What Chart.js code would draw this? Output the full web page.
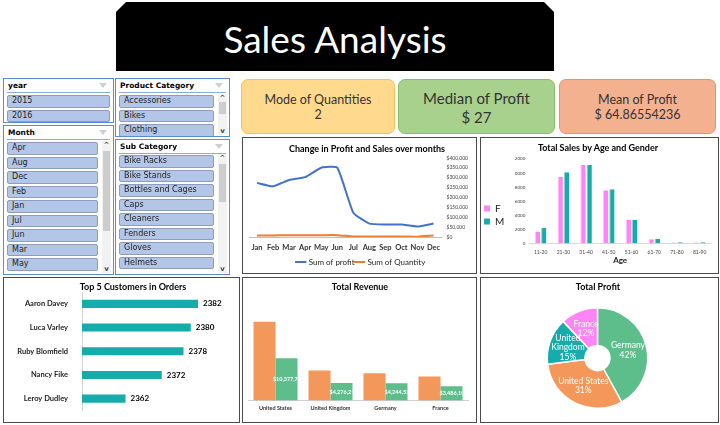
<!DOCTYPE html>
<html>
<head>
<meta charset="utf-8">
<script src="https://cdn.jsdelivr.net/npm/chart.js@4.4.1/dist/chart.umd.min.js"></script>
<style>
  body { margin: 0; width: 720px; height: 425px; overflow: hidden; background: #fff; font-family: Lato, sans-serif; position: relative; }
  .abs { position: absolute; }
  #banner { left: 116px; top: 2px; width: 438px; height: 69px; background: #000; color: #fff;
    clip-path: polygon(10px 0, 428px 0, 438px 10px, 438px 69px, 0 69px, 0 10px);
    font: 37px Lato, sans-serif; text-align: center; line-height: 74px; }
  .slicer { position: absolute; border: 1.5px solid #5B8BD0; background: #fff; box-sizing: border-box; overflow: hidden; }
  .slicer .hd { position: absolute; left: 4px; font: bold 7.5px "DejaVu Sans", sans-serif; color: #000; }
  .slicer .rule { position: absolute; left: 3px; right: 3px; height: 1px; background: #8FAADC; }
  .slicer .fn { position: absolute; width: 0; height: 0; border-left: 4px solid transparent; border-right: 4px solid transparent; border-top: 5px solid #D0D0D0; }
  .item { position: absolute; background: #B4C6E7; border: 1px solid #8C9DBB; border-radius: 2px; box-sizing: border-box;
    font: 8px "DejaVu Sans", sans-serif; color: #222; padding-left: 4px; line-height: 10.5px; }
  .sb { position: absolute; width: 9px; background: #F2F2F2; }
  .sb .th { position: absolute; left: 1px; width: 7px; background: #CDCDCD; }
  .sb .ar { position: absolute; left: 0; width: 9px; text-align: center; font: bold 7px "DejaVu Sans", sans-serif; color: #444; }
  .kpi { position: absolute; border-radius: 7px; box-sizing: border-box; text-align: center; color: #333; font-family: Lato, sans-serif; }
  .panel { position: absolute; border: 1.5px solid #4A4A4A; box-sizing: border-box; background: #fff; }
  .panel canvas { position: absolute; left: 0; top: 0; }
  .ptitle { position: absolute; font: bold 9px Lato, sans-serif; color: #000; white-space: nowrap; transform: translateX(-50%); }
</style>
</head>
<body>
<div id="banner" class="abs">Sales Analysis</div>

<div class="kpi" style="left:241px;top:79px;width:154px;height:55px;background:#FFD98E;border:1px solid #F6C24E;">
  <div style="font-size:12.5px;margin-top:12px;">Mode of Quantities</div>
  <div style="font-size:12.5px;margin-top:0px;">2</div>
</div>
<div class="kpi" style="left:398px;top:79px;width:157px;height:55px;background:#A9D18E;border:1px solid #86C06D;">
  <div style="font-size:15px;margin-top:9px;">Median of Profit</div>
  <div style="font-size:15px;margin-top:1px;">$ 27</div>
</div>
<div class="kpi" style="left:559px;top:79px;width:157px;height:55px;background:#F4B190;border:1px solid #EE8E6C;">
  <div style="font-size:12.5px;margin-top:12px;">Mean of Profit</div>
  <div style="font-size:12.5px;margin-top:0px;">$ 64.86554236</div>
</div>

<div id="p-line" class="panel" style="left:242px;top:137px;width:235px;height:137px;"><canvas id="cLine" width="232" height="134"></canvas></div>
<div id="p-age" class="panel" style="left:480px;top:137px;width:239px;height:137px;"><canvas id="cAge" width="236" height="134"></canvas></div>
<div id="p-top" class="panel" style="left:3px;top:277px;width:237px;height:146px;"><canvas id="cTop" width="234" height="143"></canvas></div>
<div id="p-rev" class="panel" style="left:242px;top:277px;width:235px;height:146px;"><canvas id="cRev" width="232" height="143"></canvas></div>
<div id="p-pro" class="panel" style="left:480px;top:277px;width:239px;height:146px;"><canvas id="cPro" width="236" height="143"></canvas></div>

<div class="ptitle" style="left:367px;top:143px;">Change in Profit and Sales over months</div>
<div class="ptitle" style="left:598px;top:142px;">Total Sales by Age and Gender</div>
<div class="ptitle" style="left:133px;top:281px;">Top 5 Customers in Orders</div>
<div class="ptitle" style="left:360px;top:281px;">Total Revenue</div>
<div class="ptitle" style="left:598px;top:281px;">Total Profit</div>

<script>
// slicer lists
var years = ['2015', '2016'];
var monthItems = ['Apr', 'Aug', 'Dec', 'Feb', 'Jan', 'Jul', 'Jun', 'Mar', 'May'];
var productCats = ['Accessories', 'Bikes', 'Clothing'];
var subCats = ['Bike Racks', 'Bike Stands', 'Bottles and Cages', 'Caps', 'Cleaners', 'Fenders', 'Gloves', 'Helmets'];

// line chart
var months = ['Jan', 'Feb', 'Mar', 'Apr', 'May', 'Jun', 'Jul', 'Aug', 'Sep', 'Oct', 'Nov', 'Dec'];
var profitByMonth = [274000, 257000, 289000, 303000, 351000, 351000, 123000, 68000, 63000, 63000, 53000, 68000];
var quantityByMonth = [8200, 8000, 8500, 8600, 9200, 9300, 2300, 2000, 2000, 2100, 1900, 7200];

// age / gender
var ageGroups = ['11-20', '21-30', '31-40', '41-50', '51-60', '61-70', '71-80', '81-90'];
var salesF = [1700, 9450, 11150, 7550, 3350, 620, 140, 140];
var salesM = [2200, 10130, 11150, 7700, 3380, 640, 190, 190];

// top customers
var customers = ['Aaron Davey', 'Luca Varley', 'Ruby Blomfield', 'Nancy Fike', 'Leroy Dudley'];
var customerOrders = [2382, 2380, 2378, 2372, 2362];

// revenue
var countries = ['United States', 'United Kingdom', 'Germany', 'France'];
var revenueA = [19400000, 7400000, 6700000, 5900000];
var revenueB = [10377746, 4276213, 4244534, 3486106];

// profit share
var profitCountries = ['Germany', 'United States', 'United Kingdom', 'France'];
var profitShare = [42, 31, 15, 12];

var cOrange = '#F4975B', cGreen = '#5DBD8B', cTeal = '#17ABAB', cPink = '#FF85F5';

function slicer(x, y, w, h, title, items, itemW, firstY, scroll) {
  var s = document.createElement('div');
  s.className = 'slicer';
  s.style.cssText = 'left:' + x + 'px;top:' + y + 'px;width:' + w + 'px;height:' + h + 'px;';
  var html = '<div class="hd" style="top:2px">' + title + '</div>' +
    '<div class="rule" style="top:13px"></div>' +
    '<div class="fn" style="right:6px;top:4px"></div>';
  items.forEach(function (t, i) {
    html += '<div class="item" style="left:3px;top:' + (firstY + i * 14.5) + 'px;width:' + itemW + 'px;height:12.5px;">' + t + '</div>';
  });
  if (scroll) {
    html += '<div class="sb" style="right:2px;top:' + (firstY - 1) + 'px;height:' + (h - firstY - 2) + 'px;">' +
      '<div class="ar" style="top:0">^</div>' +
      '<div class="th" style="top:' + scroll[0] + 'px;height:' + scroll[1] + 'px"></div>' +
      '<div class="ar" style="bottom:0">v</div></div>';
  }
  s.innerHTML = html;
  document.body.appendChild(s);
}
slicer(3, 78, 111, 45, 'year', years, 103, 16, null);
slicer(3, 125, 111, 150, 'Month', monthItems, 91, 16, [10, 80]);
slicer(115, 78, 115, 59, 'Product Category', productCats, 95, 16, [8, 12]);
slicer(115, 139, 115, 136, 'Sub Category', subCats, 95, 15, [10, 38]);

Chart.defaults.font.family = 'Lato, sans-serif';
Chart.defaults.color = '#333';
Chart.defaults.animation = false;

// nudge the bottom legend a little lower
var legendShift = {
  id: 'legendShift',
  afterLayout: function (chart) {
    chart.legend.top += 4;
    chart.legend.bottom += 4;
  }
};

// line chart
new Chart(document.getElementById('cLine'), {
  type: 'line',
  data: {
    labels: months,
    datasets: [
      { label: 'Sum of profit', data: profitByMonth, borderColor: '#4472C4', backgroundColor: '#4472C4', borderWidth: 2, pointRadius: 0, tension: 0.15 },
      { label: 'Sum of Quantity', data: quantityByMonth, borderColor: '#ED7D31', backgroundColor: '#ED7D31', borderWidth: 2, pointRadius: 0, tension: 0.15 }
    ]
  },
  options: {
    responsive: false,
    layout: { padding: { top: 20, left: 6, right: 2, bottom: 0 } },
    plugins: {
      tooltip: { enabled: false },
      legend: { position: 'bottom', labels: { usePointStyle: true, pointStyle: 'line', boxWidth: 16, font: { size: 8 }, padding: 1, color: '#222' } }
    },
    scales: {
      x: { offset: true, grid: { display: false, drawTicks: false }, border: { color: '#BFBFBF' },
        ticks: { autoSkip: false, maxRotation: 0, font: { size: 7.5, weight: 'bold' }, color: '#333', padding: 6 },
        afterFit: function (s) { s.height = 16; } },
      y: { position: 'right', min: 0, max: 400000, grid: { display: false, drawTicks: false }, border: { display: false },
        ticks: { autoSkip: false, stepSize: 50000, font: { size: 5 }, color: '#444', padding: 5, callback: function (v) { return '$' + v.toLocaleString('en-US'); } } }
    }
  },
  plugins: [legendShift]
});

// age chart
new Chart(document.getElementById('cAge'), {
  type: 'bar',
  data: {
    labels: ageGroups,
    datasets: [
      { label: 'F', data: salesF, backgroundColor: cPink, borderColor: '#FFC3F9', borderWidth: { left: 1 }, categoryPercentage: 0.55, barPercentage: 0.85 },
      { label: 'M', data: salesM, backgroundColor: cTeal, borderColor: '#7FD6D6', borderWidth: { left: 1 }, categoryPercentage: 0.55, barPercentage: 0.85 }
    ]
  },
  options: {
    responsive: false,
    layout: { padding: { top: 21, left: 0, right: 6, bottom: 1 } },
    plugins: {
      tooltip: { enabled: false },
      legend: { position: 'left', labels: { boxWidth: 6, boxHeight: 6, font: { size: 10 }, padding: 3, color: '#222' } }
    },
    scales: {
      x: { grid: { display: false, drawTicks: false }, border: { color: '#D9D9D9' },
        ticks: { autoSkip: false, maxRotation: 0, font: { size: 5 }, color: '#444', padding: 6 },
        title: { display: true, text: 'Age', font: { size: 8, weight: 'bold' }, color: '#222', padding: { top: 0, bottom: 6 } },
        afterFit: function (s) { s.height = 27.5; } },
      y: { min: 0, max: 12000, grid: { display: false, drawTicks: false }, border: { display: false },
        ticks: { autoSkip: false, stepSize: 2000, font: { size: 4.5 }, color: '#444', padding: 4, callback: function (v) { return String(v); } },
        afterFit: function (s) { s.width = 15; } }
    }
  }
});

// top 5 customers
var valueLabels = {
  id: 'valueLabels',
  afterDatasetsDraw: function (chart) {
    var ctx = chart.ctx, meta = chart.getDatasetMeta(0);
    ctx.save();
    ctx.font = 'bold 8px Lato, sans-serif';
    ctx.fillStyle = '#000';
    ctx.textBaseline = 'middle';
    meta.data.forEach(function (bar, i) {
      ctx.fillText(chart.data.datasets[0].data[i], bar.x + 5, bar.y);
    });
    ctx.restore();
  }
};
new Chart(document.getElementById('cTop'), {
  type: 'bar',
  data: { labels: customers, datasets: [{ data: customerOrders, backgroundColor: cTeal, categoryPercentage: 1, barPercentage: 0.34 }] },
  options: {
    indexAxis: 'y',
    responsive: false,
    layout: { padding: { top: 14, left: 0, right: 11, bottom: 5 } },
    plugins: { legend: { display: false }, tooltip: { enabled: false } },
    scales: {
      x: { display: false, min: 2350, max: 2390 },
      y: { grid: { display: false }, border: { color: '#D0D0D0' }, ticks: { font: { size: 7.5, weight: 'bold' }, color: '#222', padding: 6 }, afterFit: function (s) { s.width = 78; } }
    }
  },
  plugins: [valueLabels]
});

// total revenue
var revLabels = {
  id: 'revLabels',
  afterDatasetsDraw: function (chart) {
    var ctx = chart.ctx, meta = chart.getDatasetMeta(1);
    ctx.save();
    ctx.font = 'bold 5.5px Lato, sans-serif';
    ctx.fillStyle = '#fff';
    ctx.textAlign = 'center';
    ctx.textBaseline = 'middle';
    meta.data.forEach(function (bar, i) {
      var l = bar.x - bar.width / 2;
      ctx.save();
      ctx.beginPath();
      ctx.rect(l - 6, bar.y, bar.width + 6, bar.base - bar.y);
      ctx.clip();
      ctx.fillText('$' + revenueB[i].toLocaleString('en-US'), bar.x + 2, (bar.y + bar.base) / 2);
      ctx.restore();
    });
    ctx.restore();
  }
};
new Chart(document.getElementById('cRev'), {
  type: 'bar',
  data: {
    labels: countries,
    datasets: [
      { data: revenueA, backgroundColor: cOrange, categoryPercentage: 0.8, barPercentage: 1 },
      { data: revenueB, backgroundColor: cGreen, categoryPercentage: 0.8, barPercentage: 1 }
    ]
  },
  options: {
    responsive: false,
    layout: { padding: { top: 21, left: 5, right: 7, bottom: 4 } },
    plugins: { legend: { display: false }, tooltip: { enabled: false } },
    scales: {
      x: { grid: { display: false, drawTicks: false }, border: { color: '#D0D0D0' }, ticks: { font: { size: 5.5, weight: 'bold' }, color: '#333', padding: 5 } },
      y: { display: false, min: 0, max: 25000000 }
    }
  },
  plugins: [revLabels]
});

// total profit
var sliceLabels = {
  id: 'sliceLabels',
  afterDatasetsDraw: function (chart) {
    var ctx = chart.ctx, meta = chart.getDatasetMeta(0);
    ctx.save();
    ctx.font = '8.5px Lato, sans-serif';
    ctx.fillStyle = '#fff';
    ctx.textAlign = 'center';
    ctx.textBaseline = 'middle';
    meta.data.forEach(function (arc, i) {
      var p = arc.tooltipPosition();
      var name = profitCountries[i];
      var lines = name === 'United Kingdom' ? ['United', 'Kingdom'] : [name];
      lines.push(profitShare[i] + '%');
      var y0 = p.y - (lines.length - 1) * 4.75;
      lines.forEach(function (t, k) { ctx.fillText(t, p.x, y0 + k * 9.5); });
    });
    ctx.restore();
  }
};
new Chart(document.getElementById('cPro'), {
  type: 'doughnut',
  data: { labels: profitCountries, datasets: [{ data: profitShare, backgroundColor: [cGreen, cOrange, cTeal, cPink], borderColor: '#fff', borderWidth: 1.5 }] },
  options: {
    responsive: false,
    cutout: '25%',
    layout: { padding: { top: 29, left: 0, right: 3, bottom: 12 } },
    plugins: { legend: { display: false }, tooltip: { enabled: false } }
  },
  plugins: [sliceLabels]
});
</script>
</body>
</html>
